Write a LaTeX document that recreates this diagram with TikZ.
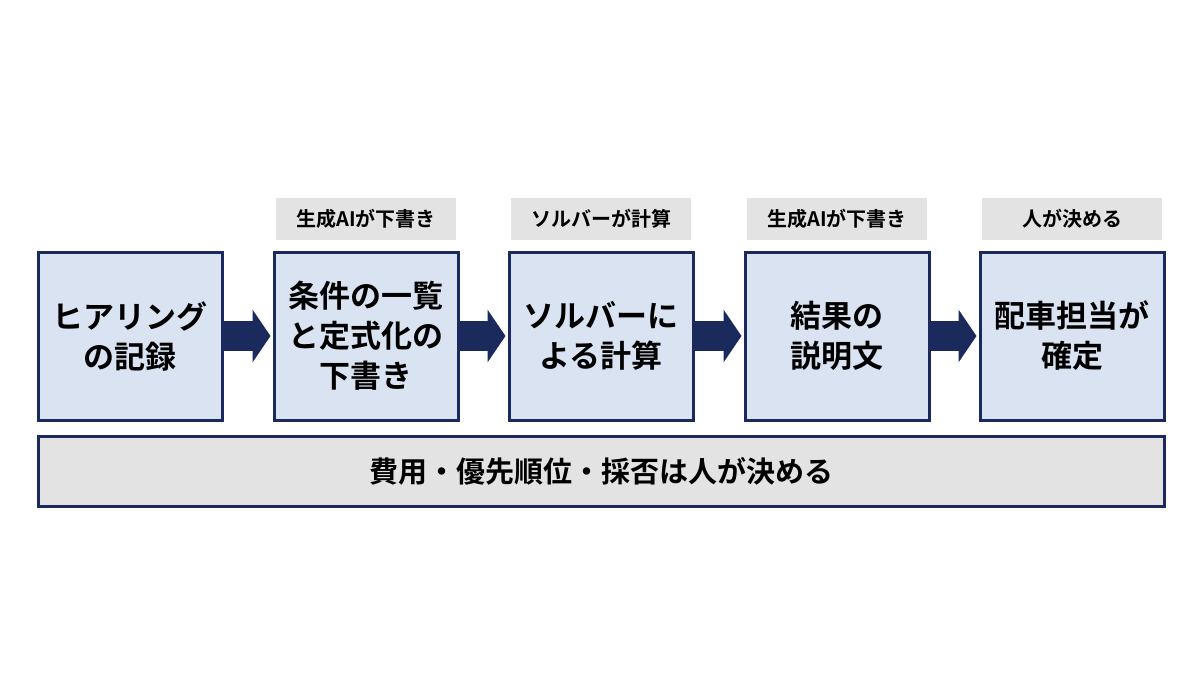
\documentclass[tikz,border=0pt]{standalone}
\usepackage{fontspec}
\setmainfont{Noto Sans CJK JP}[BoldFont={Noto Sans CJK JP Bold}]
\usetikzlibrary{arrows.meta}
\definecolor{navy}{HTML}{1B2A5C}
\definecolor{boxfill}{HTML}{D9E3F1}
\definecolor{tagfill}{HTML}{E3E3E3}
\begin{document}
\begin{tikzpicture}[x=0.5pt,y=-0.5pt,
  stagebox/.style={draw=navy,line width=1.5pt,fill=boxfill,minimum width=92pt,minimum height=84pt,align=center,font=\bfseries\fontsize{15.5}{20}\selectfont,inner sep=0pt},
  tag/.style={fill=tagfill,minimum width=90pt,minimum height=21pt,font=\bfseries\fontsize{10}{11}\selectfont,inner sep=0pt},
  flow/.style={navy,line width=15pt,-{Triangle[length=9pt,width=26pt]},shorten >=1pt}]
\useasboundingbox[fill=white] (0,0) rectangle (1200,675);
\node[stagebox] (s1) at (130,336) {ヒアリング\\の記録};
\node[stagebox] (s2) at (366,336) {条件の一覧\\と定式化の\\下書き};
\node[stagebox] (s3) at (601,336) {ソルバーに\\よる計算};
\node[stagebox] (s4) at (837,336) {結果の\\説明文};
\node[stagebox] (s5) at (1072,336) {配車担当が\\確定};
\node[tag] (t2) at (366,219) {生成AIが下書き};
\node[tag] (t3) at (601,219) {ソルバーが計算};
\node[tag] (t4) at (837,219) {生成AIが下書き};
\node[tag] (t5) at (1072,219) {人が決める};
\draw[flow] (s1.east) -- (s2.west);
\draw[flow] (s2.east) -- (s3.west);
\draw[flow] (s3.east) -- (s4.west);
\draw[flow] (s4.east) -- (s5.west);
\node[draw=navy,line width=1.5pt,fill=tagfill,minimum width=563pt,minimum height=35pt,inner sep=0pt,font=\bfseries\fontsize{14.5}{17}\selectfont] (bar) at (601,471) {費用・優先順位・採否は人が決める};
\end{tikzpicture}
\end{document}
